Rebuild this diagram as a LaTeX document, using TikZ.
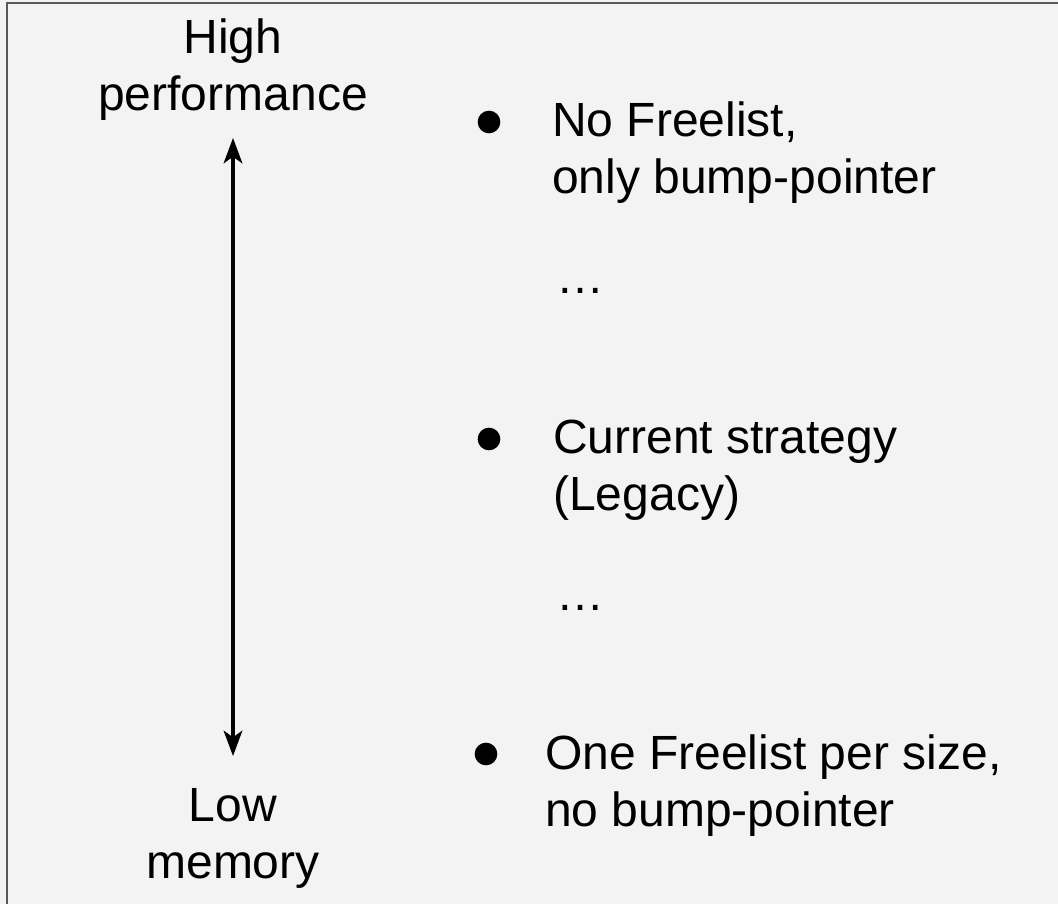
\documentclass[tikz,border=0pt]{standalone}
\usepackage{fontspec}
\setmainfont{Liberation Sans}
\usetikzlibrary{arrows.meta}
\definecolor{slidebg}{HTML}{F3F3F3}
\definecolor{framegray}{HTML}{595959}

\begin{document}
\begin{tikzpicture}[x=0.75pt, y=-0.75pt,
    label/.style={inner sep=0pt, align=center, font=\fontsize{36}{42.75}\selectfont},
    item/.style={inner sep=0pt, align=left, anchor=base west, font=\fontsize{36}{42.75}\selectfont},
    dot/.style={circle, fill=black, inner sep=0pt, minimum size=17pt}]
    % canvas
    \useasboundingbox (0,0) rectangle (1058,904);
    \fill[slidebg] (0,0) rectangle (1058,904);
    \draw[framegray, line width=1.5pt] (6.5,904) -- (6.5,2.5) -- (1058,2.5);

    % axis ends (base = last line)
    \node[label, anchor=base] (high) at (233,110) {High\\performance};
    \node[label, anchor=base] (low) at (233,878) {Low\\memory};

    \coordinate (top) at (233,138);
    \coordinate (bottom) at (233,756);
    \draw[line width=2.5pt, {Stealth[length=19pt, width=14pt, inset=5pt]}-{Stealth[length=19pt, width=14pt, inset=5pt]}] (top) -- (bottom);

    % strategies
    \node[dot] (b1) at (489,122) {};
    \node[item] (s1) at (552,193) {No Freelist,\\only bump-pointer};
    \node[item] (d1) at (556,293) {…};

    \node[dot] (b2) at (489,439) {};
    \node[item] (s2) at (553,510) {Current strategy\\(Legacy)};
    \node[item] (d2) at (556,610) {…};

    \node[dot] (b3) at (486,754) {};
    \node[item] (s3) at (545,826) {One Freelist per size,\\no bump-pointer};
\end{tikzpicture}
\end{document}
